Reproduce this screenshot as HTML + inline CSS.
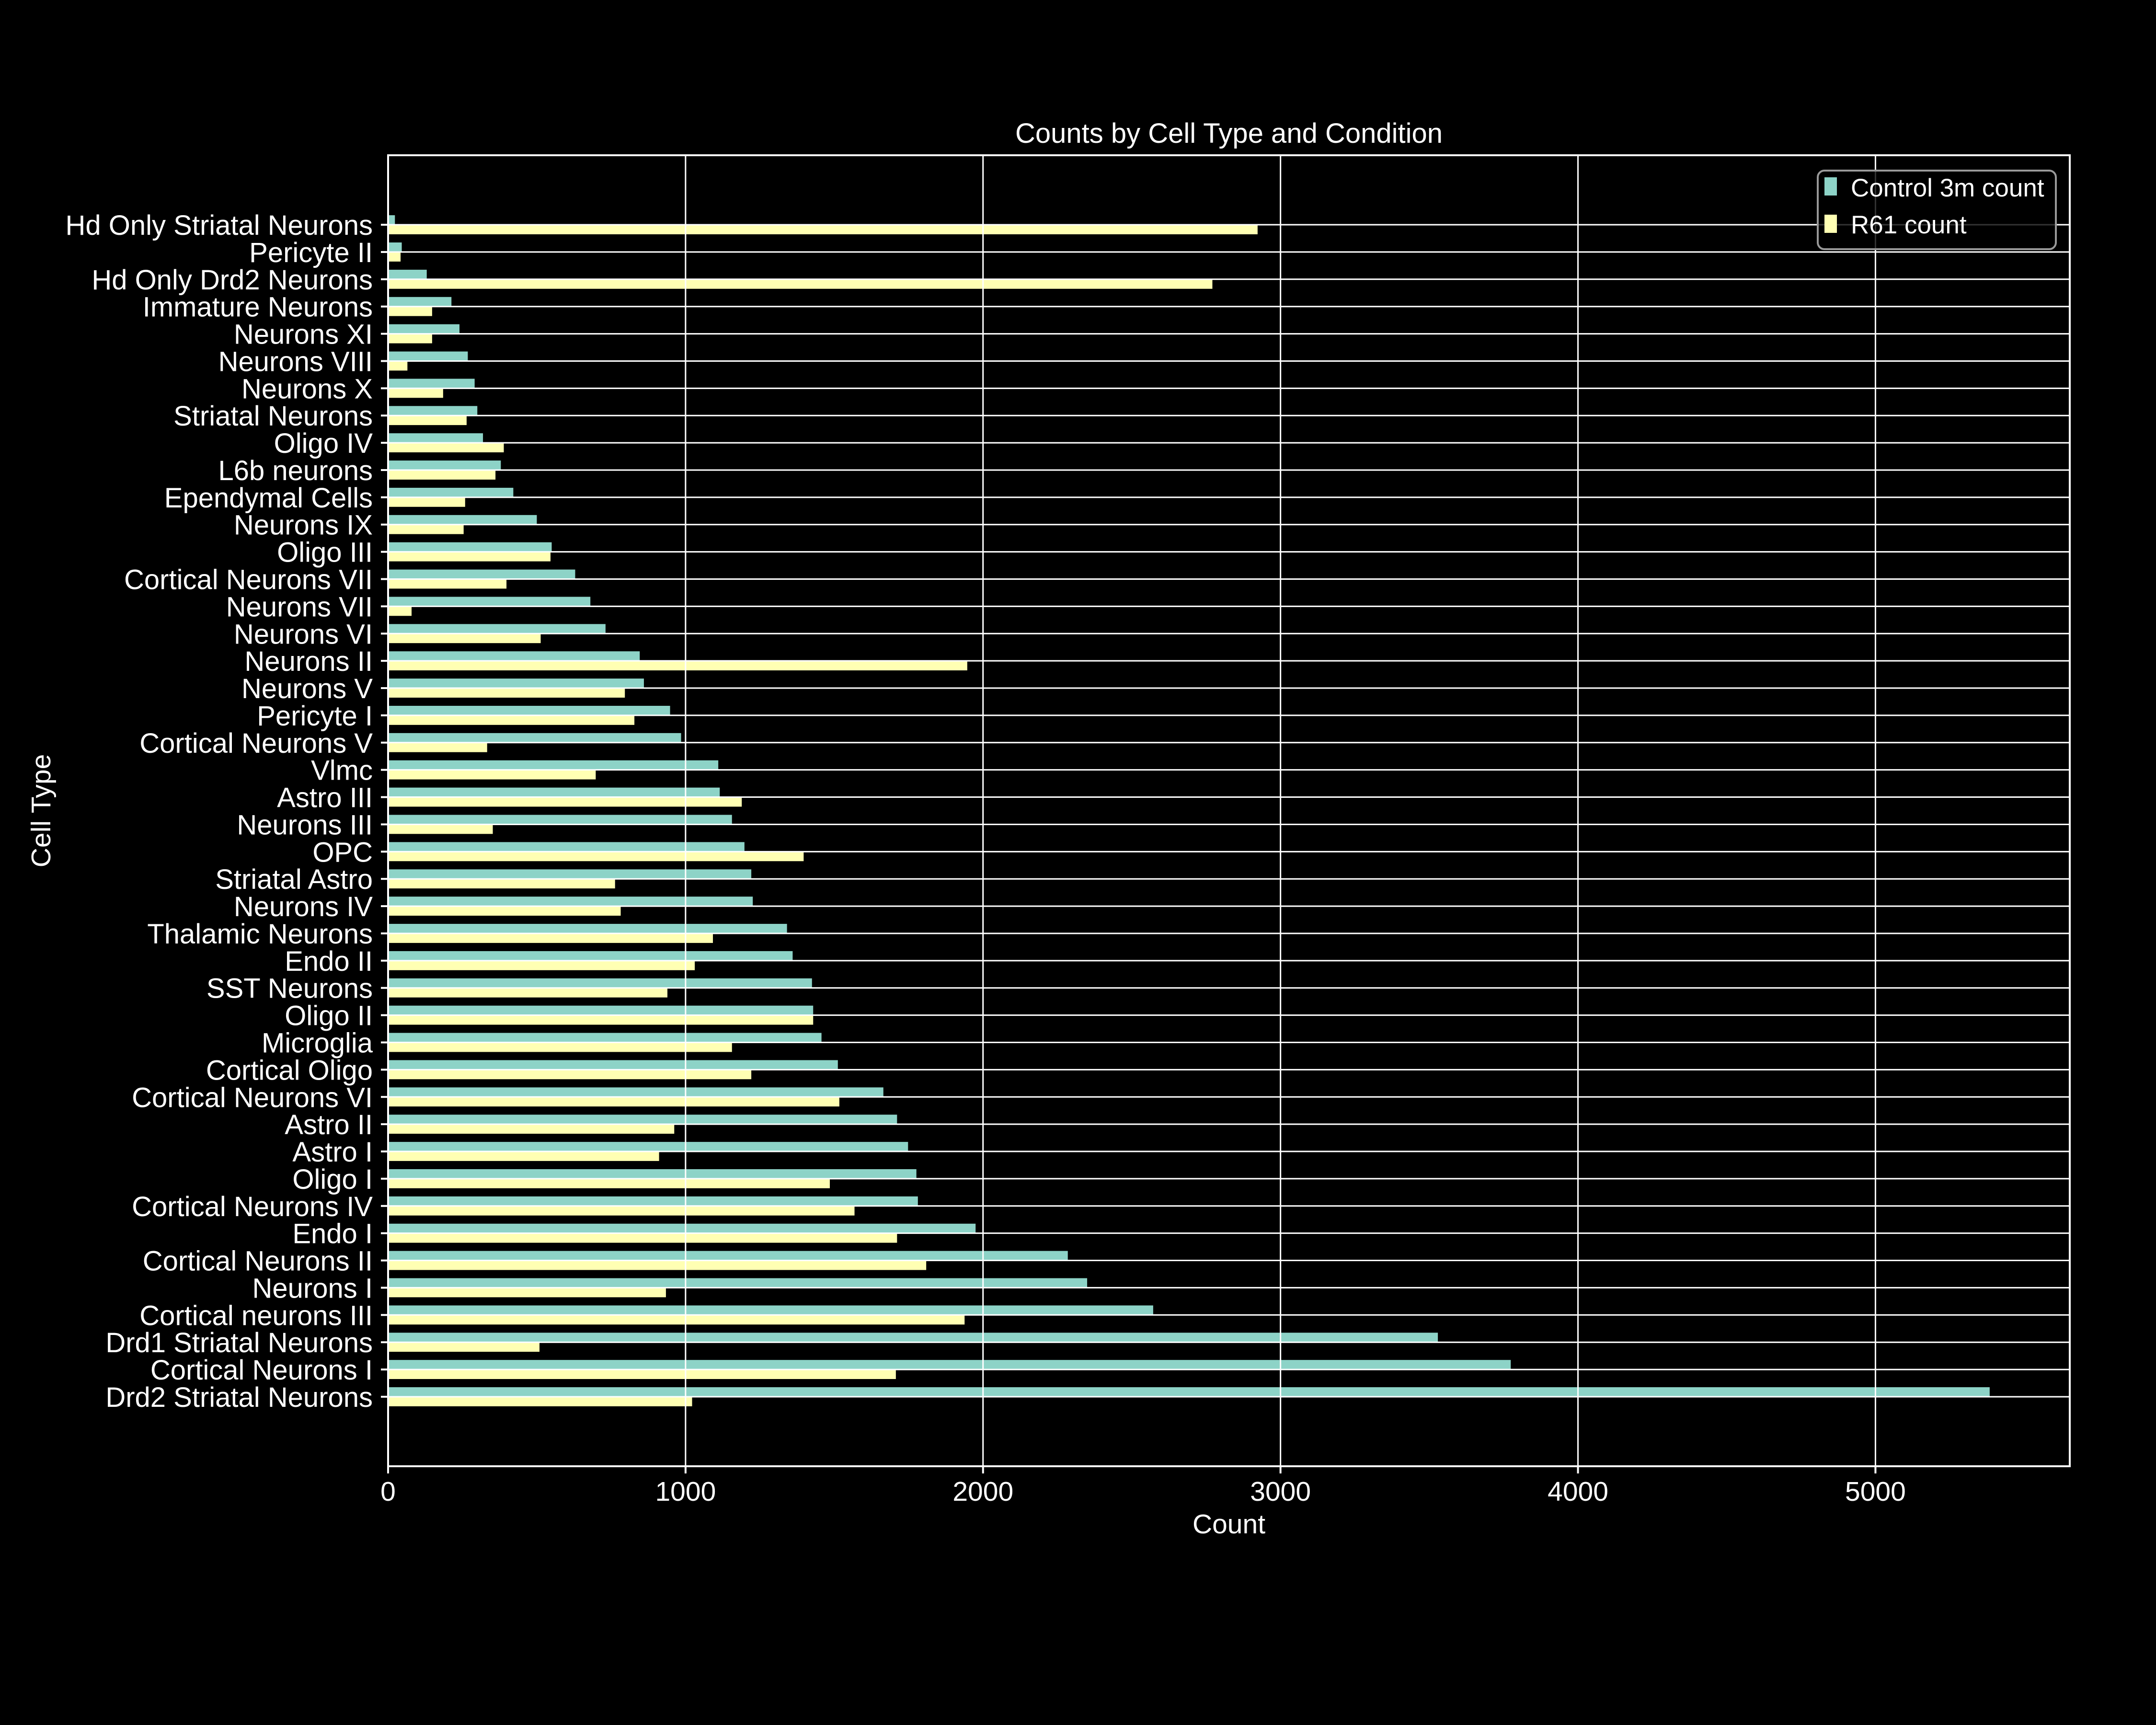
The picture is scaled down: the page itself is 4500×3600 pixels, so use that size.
<!DOCTYPE html>
<html><head><meta charset="utf-8"><style>
html,body{margin:0;padding:0;background:#000;}
svg{display:block;font-family:"Liberation Sans",Arial,sans-serif;}
</style></head><body>
<svg id="chart" width="4500" height="3600" viewBox="0 0 4500 3600" xmlns="http://www.w3.org/2000/svg">
<rect x="0" y="0" width="4500" height="3600" fill="#000"/>
<text x="2565" y="298" fill="#fff" font-size="58" text-anchor="middle">Counts by Cell Type and Condition</text>
<text x="2565" y="3200" fill="#fff" font-size="57" text-anchor="middle">Count</text>
<text x="0" y="0" fill="#fff" font-size="57" text-anchor="middle" transform="translate(105,1692) rotate(-90)">Cell Type</text>
<g id="bars"></g>
<g id="grid"></g>
<g id="yticks"></g>
<g id="xticks"></g>
<rect x="810" y="324" width="3510" height="2736" fill="none" stroke="#fff" stroke-width="4"/>
<g>
<rect x="3794" y="356" width="497" height="164" rx="14" fill="#000" fill-opacity="0.8" stroke="#999" stroke-width="4"/>
<rect x="3808" y="370" width="26" height="38" fill="#8dd3c7"/>
<text x="3863" y="410" fill="#fff" font-size="53">Control 3m count</text>
<rect x="3808" y="448" width="26" height="38" fill="#ffffb3"/>
<text x="3863" y="487" fill="#fff" font-size="53">R61 count</text>
</g>
</svg>
<script>
const categories = ["Drd2 Striatal Neurons","Cortical Neurons I","Drd1 Striatal Neurons","Cortical neurons III","Neurons I","Cortical Neurons II","Endo I","Cortical Neurons IV","Oligo I","Astro I","Astro II","Cortical Neurons VI","Cortical Oligo","Microglia","Oligo II","SST Neurons","Endo II","Thalamic Neurons","Neurons IV","Striatal Astro","OPC","Neurons III","Astro III","Vlmc","Cortical Neurons V","Pericyte I","Neurons V","Neurons II","Neurons VI","Neurons VII","Cortical Neurons VII","Oligo III","Neurons IX","Ependymal Cells","L6b neurons","Oligo IV","Striatal Neurons","Neurons X","Neurons VIII","Neurons XI","Immature Neurons","Hd Only Drd2 Neurons","Pericyte II","Hd Only Striatal Neurons"];
const controlCounts = [5384,3774,3529,2572,2350,2285,1975,1781,1776,1748,1711,1665,1512,1457,1429,1425,1360,1341,1226,1221,1198,1156,1115,1110,985,948,860,846,731,680,629,550,500,421,379,319,300,291,268,240,213,130,46,23];
const r61Counts = [1022,1707,509,1938,934,1809,1711,1568,1485,911,962,1517,1221,1156,1429,939,1031,1092,782,763,1397,352,1189,698,333,828,796,1947,513,79,398,546,254,259,361,389,264,185,65,148,148,2771,42,2923];
const xTickValues = [0,1000,2000,3000,4000,5000];
const xTickLabels = ["0","1000","2000","3000","4000","5000"];

const NS = "http://www.w3.org/2000/svg";
const L = 810, R = 4320, T = 324, B = 3060;
const xMax = 1.05 * Math.max(...controlCounts, ...r61Counts);
const yMin = -2.55, yMax = categories.length - 1 + 2.55;
function xs(v){ return L + (v / xMax) * (R - L); }
function ys(v){ return B - (v - yMin) / (yMax - yMin) * (B - T); }
const unit = (B - T) / (yMax - yMin);
const bh = 0.35;

function mk(tag, attrs, parent){
  const e = document.createElementNS(NS, tag);
  for (const k in attrs) e.setAttribute(k, attrs[k]);
  parent.appendChild(e);
  return e;
}
const gBars = document.getElementById('bars');
const gGrid = document.getElementById('grid');
const gY = document.getElementById('yticks');
const gX = document.getElementById('xticks');

categories.forEach((c, i) => {
  const yc = ys(i);
  const b1 = mk('rect', {x: xs(0), y: yc - bh * unit, width: xs(controlCounts[i]) - xs(0), height: bh * unit, fill: '#8dd3c7'}, gBars);
  
  
  const b2 = mk('rect', {x: xs(0), y: yc, width: xs(r61Counts[i]) - xs(0), height: bh * unit, fill: '#ffffb3'}, gBars);
  
  
  const gl = mk('line', {x1: L, x2: R, y1: yc, y2: yc, stroke: '#fff', 'stroke-width': 3}, gGrid);
  
  
  const tk = mk('line', {x1: L - 15, x2: L, y1: yc, y2: yc, stroke: '#fff', 'stroke-width': 4}, gY);
  
  
  const t = mk('text', {x: 778, y: yc + 21, fill: '#fff', 'font-size': 58, 'text-anchor': 'end'}, gY);
  t.textContent = c;
  
  
});

xTickValues.forEach((v, i) => {
  const x = xs(v);
  const gl = mk('line', {x1: x, x2: x, y1: T, y2: B, stroke: '#fff', 'stroke-width': 3}, gGrid);
  
  
  const tk = mk('line', {x1: x, x2: x, y1: B, y2: B + 15, stroke: '#fff', 'stroke-width': 4}, gX);
  
  
  const t = mk('text', {x: x, y: 3132, fill: '#fff', 'font-size': 57, 'text-anchor': 'middle'}, gX);
  t.textContent = xTickLabels[i];
  
  
});
</script>
</body></html>
